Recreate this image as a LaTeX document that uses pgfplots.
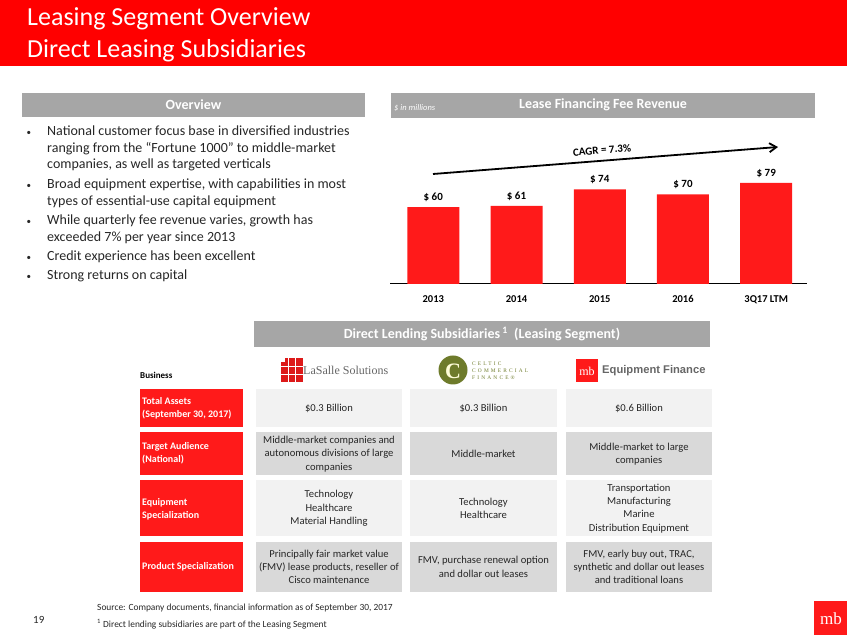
\documentclass[border=0pt]{standalone}
\usepackage{pgfplots}
\pgfplotsset{compat=1.18}
\usetikzlibrary{arrows.meta}
\usepackage{fontspec}
\setmainfont{Carlito}
\newfontfamily\serifb{Liberation Serif}
\newfontfamily\serifsp{Liberation Serif}[LetterSpace=40]
\newfontfamily\arialf{Liberation Sans}
\definecolor{mbred}{HTML}{FF0000}
\definecolor{barred}{HTML}{FF1A1A}
\definecolor{hdrgray}{HTML}{A6A6A6}
\definecolor{cellA}{HTML}{F2F2F2}
\definecolor{cellB}{HTML}{D9D9D9}
\definecolor{olivec}{HTML}{6E7B2B}
\definecolor{txtc}{HTML}{262626}
\newcommand{\cellfont}{\fontsize{10.6}{13.3}\selectfont}
\newcommand{\labfont}{\bfseries\fontsize{10}{13.3}\selectfont}
\begin{document}
\begin{tikzpicture}
\begin{scope}[x=1pt,y=-1pt,shift={(0pt,635pt)}]
\path[use as bounding box] (0,0) rectangle (847,635);
% title band
\fill[mbred] (0,0) rectangle (847,66);
\node[anchor=base west, inner sep=0, text=white, font=\fontsize{26}{31}\selectfont] at (27,26) {Leasing Segment Overview};
\node[anchor=base west, inner sep=0, text=white, font=\fontsize{26}{31}\selectfont] at (27,58) {Direct Leasing Subsidiaries};
% overview
\fill[hdrgray] (22,93) rectangle (365,117);
\node[text=white, font=\bfseries\fontsize{14}{16}\selectfont] at (193.5,105) {Overview};
\foreach \y/\t in {135.7/{National customer focus base in diversified industries},
                   152.3/{ranging from the “Fortune 1000” to middle-market},
                   169/{companies, as well as targeted verticals},
                   189/{Broad equipment expertise, with capabilities in most},
                   205.5/{types of essential-use capital equipment},
                   225/{While quarterly fee revenue varies, growth has},
                   241.7/{exceeded 7\% per year since 2013},
                   260.7/{Credit experience has been excellent},
                   280/{Strong returns on capital}}
  {\node[anchor=base west, inner sep=0, text=txtc, font=\fontsize{14}{16}\selectfont] at (47,\y) {\t};}
\foreach \y in {135.7,189,225,260.7,280}
  {\node[anchor=base west, inner sep=0, text=txtc, font=\fontsize{9}{11}\selectfont] at (26.5,\y-0.5) {•};}
% lease header
\fill[hdrgray] (391,93) rectangle (815,118);
\node[anchor=west, inner sep=0, text=white, font=\itshape\fontsize{8.5}{10}\selectfont] at (394,108) {\$ in millions};
\node[text=white, font=\bfseries\fontsize{14}{16}\selectfont] at (603,105) {Lease Financing Fee Revenue};
% CAGR arrow
\draw[-{Straight Barb[length=7pt,width=9pt]}, line width=1.8pt] (433,174) -- (778,147);
\node[rotate=4.5, font=\bfseries\fontsize{11}{13}\selectfont] at (602,150) {CAGR = 7.3\%};
% table header
\fill[hdrgray] (254,321) rectangle (710,347);
\node[text=white, font=\bfseries\fontsize{14}{16}\selectfont] at (482,334) {Direct Lending Subsidiaries\,\textsuperscript{1}\ \ (Leasing Segment)};
\node[anchor=west, inner sep=0, font=\bfseries\fontsize{9}{11}\selectfont] at (140,375) {Business};
% LaSalle logo
\fill[red!85!black!90!white] (281,358) rectangle (303,382);
\draw[white, line width=0.8pt] (288.3,358) -- (288.3,382) (295.6,358) -- (295.6,382) (281,366) -- (303,366) (281,374) -- (303,374);
\fill[white] (281,358) rectangle (285,362);
\node[anchor=west, inner sep=0, text=black!60, font=\serifb\fontsize{12}{14}\selectfont] at (303,370) {LaSalle Solutions};
% Celtic logo
\fill[olivec] (453,370) circle (14.5);
\node[text=white!85!yellow, font=\serifb\bfseries\fontsize{22}{24}\selectfont] at (453,371) {C};
\node[anchor=west, inner sep=0, align=left, text=olivec, font=\serifsp\fontsize{5.4}{7.2}\selectfont] at (472,370.5) {CELTIC\\COMMERCIAL\\FINANCE®};
% mb equipment finance
\fill[barred] (576,359) rectangle (598,382);
\node[text=white, font=\serifb\fontsize{12}{14}\selectfont] at (587,371) {mb};
\node[anchor=west, inner sep=0, text=black!60, font=\arialf\bfseries\fontsize{11.2}{13}\selectfont] at (602,371) {Equipment Finance};
% table cells
\foreach \ya/\yb/\c in {389/427/cellA, 432/475/cellB, 480/536/cellA, 542/592/cellB}{
  \fill[barred] (140,\ya) rectangle (243,\yb);
  \fill[\c] (256,\ya) rectangle (402,\yb);
  \fill[\c] (410,\ya) rectangle (557,\yb);
  \fill[\c] (566,\ya) rectangle (712,\yb);
}
\node[anchor=west, inner sep=0, align=left, text=white, font=\labfont] at (142,408.5) {Total Assets\\(September 30, 2017)};
\node[anchor=west, inner sep=0, align=left, text=white, font=\labfont] at (142,453.5) {Target Audience\\(National)};
\node[anchor=west, inner sep=0, align=left, text=white, font=\labfont] at (142,509) {Equipment\\Specialization};
\node[anchor=west, inner sep=0, align=left, text=white, font=\labfont] at (142,567) {Product Specialization};
% row 1
\node[align=center, inner sep=0, text=txtc, font=\cellfont] at (329,408) {\$0.3 Billion};
\node[align=center, inner sep=0, text=txtc, font=\cellfont] at (483.5,408) {\$0.3 Billion};
\node[align=center, inner sep=0, text=txtc, font=\cellfont] at (639,408) {\$0.6 Billion};
% row 2
\node[align=center, inner sep=0, text=txtc, font=\cellfont] at (329,454) {Middle-market companies and\\autonomous divisions of large\\companies};
\node[align=center, inner sep=0, text=txtc, font=\cellfont] at (483.5,454) {Middle-market};
\node[align=center, inner sep=0, text=txtc, font=\cellfont] at (639,454) {Middle-market to large\\companies};
% row 3
\node[align=center, inner sep=0, text=txtc, font=\cellfont] at (329,508.5) {Technology\\Healthcare\\Material Handling};
\node[align=center, inner sep=0, text=txtc, font=\cellfont] at (483.5,508.5) {Technology\\Healthcare};
\node[align=center, inner sep=0, text=txtc, font=\cellfont] at (639,508.5) {Transportation\\Manufacturing\\Marine\\Distribution Equipment};
% row 4
\node[align=center, inner sep=0, text=txtc, font=\cellfont] at (329,567) {Principally fair market value\\(FMV) lease products, reseller of\\Cisco maintenance};
\node[align=center, inner sep=0, text=txtc, font=\cellfont] at (483.5,567) {FMV, purchase renewal option\\and dollar out leases};
\node[align=center, inner sep=0, text=txtc, font=\cellfont] at (639,567) {FMV, early buy out, TRAC,\\synthetic and dollar out leases\\and traditional loans};
% footer
\node[anchor=west, inner sep=0, text=txtc, font=\fontsize{9.4}{11}\selectfont] at (97,608) {Source: Company documents, financial information as of September 30, 2017};
\node[anchor=west, inner sep=0, text=txtc, font=\fontsize{9.4}{11}\selectfont] at (97,624) {\textsuperscript{1} Direct lending subsidiaries are part of the Leasing Segment};
\node[anchor=west, inner sep=0, text=txtc, font=\fontsize{11}{13}\selectfont] at (33,620) {19};
\fill[barred] (814,601) rectangle (847,635);
\node[text=white, font=\serifb\fontsize{17}{19}\selectfont] at (831,619) {mb};
\end{scope}
\begin{axis}[
  at={(390pt,351pt)}, anchor=south west,
  width=417pt, height=128pt, scale only axis,
  xmin=-0.52, xmax=4.49, ymin=0, ymax=100,
  axis x line*=bottom, axis y line=none,
  x axis line style={black, line width=1pt, -},
  xtick=data, xticklabels={2013,2014,2015,2016,3Q17 LTM},
  major tick length=0pt,
  xticklabel style={font=\bfseries\fontsize{10.5}{12}\selectfont, yshift=-8pt},
  ybar, bar width=52pt,
  /pgf/number format/assume math mode=true,
  nodes near coords={\$ \pgfmathprintnumber{\pgfplotspointmeta}},
  every node near coord/.append style={font=\bfseries\fontsize{11}{13}\selectfont, yshift=2pt},
  clip=false,
]
\addplot[fill=barred, draw=none] coordinates {(0,60) (1,61) (2,74) (3,70) (4,79)};
\end{axis}
\end{tikzpicture}
\end{document}
